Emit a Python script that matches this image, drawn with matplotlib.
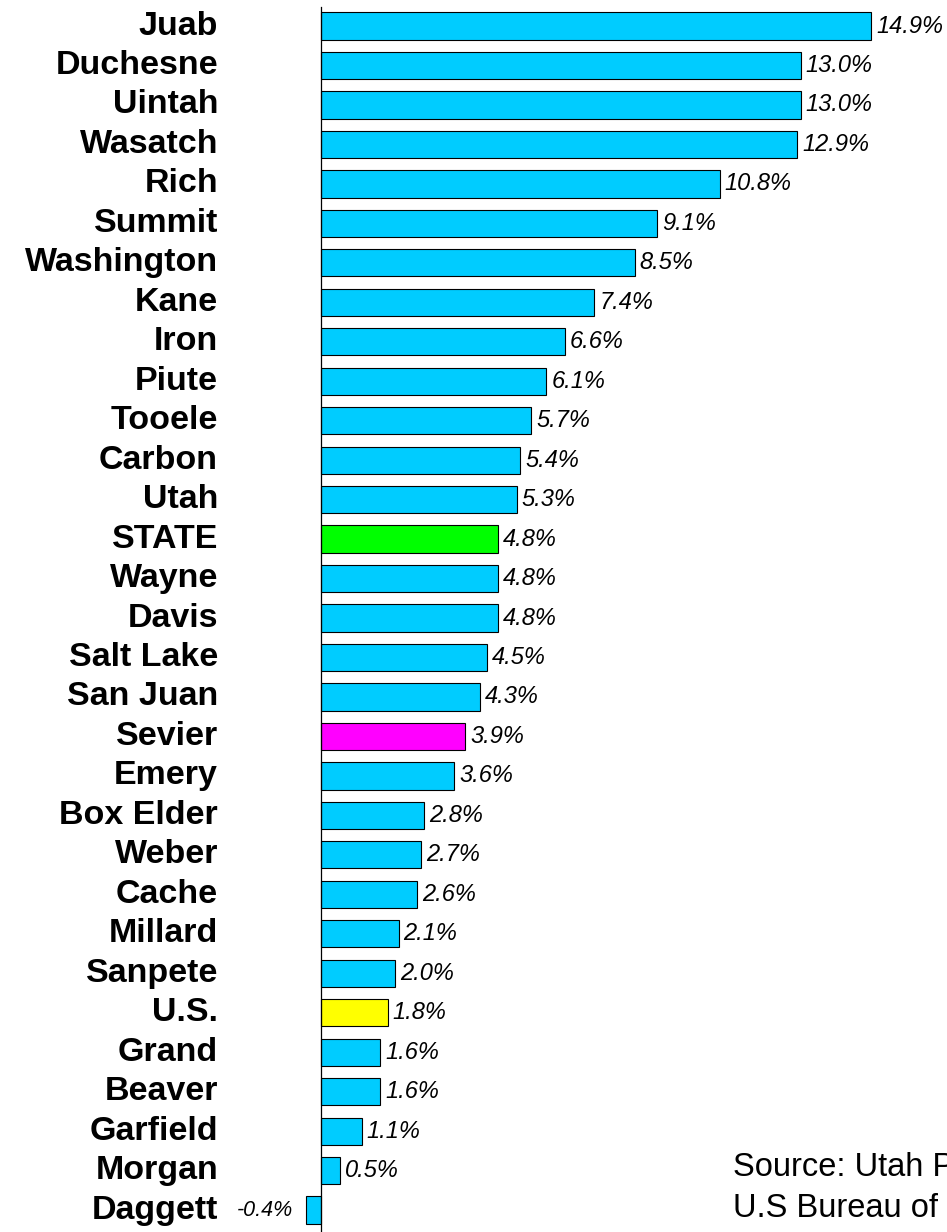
"""Utah county population growth rates, horizontal bar chart."""

import matplotlib

matplotlib.use("Agg")
import matplotlib.pyplot as plt
import matplotlib.transforms as mtransforms

plt.rcParams["font.family"] = ["Liberation Sans", "DejaVu Sans"]

counties = [
    "Juab", "Duchesne", "Uintah", "Wasatch", "Rich", "Summit", "Washington",
    "Kane", "Iron", "Piute", "Tooele", "Carbon", "Utah", "STATE", "Wayne",
    "Davis", "Salt Lake", "San Juan", "Sevier", "Emery", "Box Elder", "Weber",
    "Cache", "Millard", "Sanpete", "U.S.", "Grand", "Beaver", "Garfield",
    "Morgan", "Daggett",
]
growth = [
    14.9, 13.0, 13.0, 12.9, 10.8, 9.1, 8.5, 7.4, 6.6, 6.1, 5.7, 5.4, 5.3, 4.8,
    4.8, 4.8, 4.5, 4.3, 3.9, 3.6, 2.8, 2.7, 2.6, 2.1, 2.0, 1.8, 1.6, 1.6, 1.1,
    0.5, -0.4,
]
highlight = {"STATE": "#00FF00", "Sevier": "#FF00FF", "U.S.": "#FFFF00"}
base_color = "#00CCFF"
source_text = "Source: Utah Population Estimates Committee\nU.S Bureau of the Census"

fig = plt.figure(figsize=(9.47, 12.32), dpi=100)
ax = fig.add_axes([0, 0, 1, 1])
ax.set_xlim(-8.70, 16.96)
ax.set_ylim(30.555, -0.659)
ax.axis("off")

ypos = list(range(len(counties)))
colors = [highlight.get(c, base_color) for c in counties]
ax.barh(ypos, growth, height=0.69, color=colors, edgecolor="black", linewidth=0.8, zorder=2)
ax.axvline(0, ymin=0, ymax=0.994, color="black", linewidth=0.9, zorder=3)

off = mtransforms.offset_copy(ax.transData, fig=fig, x=5, y=0, units="dots")
off_neg = mtransforms.offset_copy(ax.transData, fig=fig, x=-13, y=0, units="dots")
for y, name, v in zip(ypos, counties, growth):
    ax.text(-2.79, y, name, ha="right", va="center", fontsize=24.5, fontweight="bold")
    if v >= 0:
        ax.text(v, y, f"{v:.1f}%", ha="left", va="center", fontsize=17,
                style="italic", transform=off)
    else:
        ax.text(v, y, f"{v:.1f}%", ha="right", va="center", fontsize=15.5,
                style="italic", transform=off_neg)

fig.text(733 / 947, 1 - 1188 / 1232, source_text, ha="left", va="center",
         fontsize=23.5, linespacing=1.45)

fig.savefig("out.png", dpi=100)
